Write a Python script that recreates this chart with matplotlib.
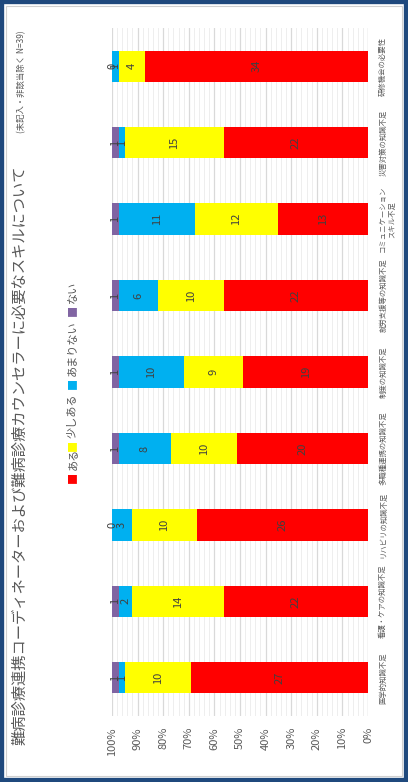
import numpy as np
import matplotlib
matplotlib.use('Agg')
import matplotlib.pyplot as plt
from matplotlib.patches import Rectangle
from matplotlib.ticker import MultipleLocator

plt.rcParams['font.family'] = ['Noto Sans CJK JP', 'DejaVu Sans']

# categories, original left -> right (drawn bottom -> top after rotation)
categories = ['医学的知識不足', '看護・ケアの知識不足', 'リハビリの知識不足',
              '多職種連携の知識不足', '制度の知識不足', '就労支援等の知識不足',
              'コミュニケーション\nスキル不足', '災害対策の知識不足', '研修機会の必要性']
aru = [27, 22, 26, 20, 19, 22, 13, 22, 34]          # ある
sukoshi = [10, 14, 10, 10, 9, 10, 12, 15, 4]        # 少しある
amari = [1, 2, 3, 8, 10, 6, 11, 1, 1]               # あまりない
nai = [1, 1, 0, 1, 1, 1, 1, 1, 0]                   # ない
series_names = ['ある', '少しある', 'あまりない', 'ない']
colors = ['#ff0000', '#ffff00', '#00b0f0', '#8064a2']
pct_ticks = ['100%', '90%', '80%', '70%', '60%', '50%', '40%', '30%', '20%', '10%', '0%']

txt = '#595959'
W, H = 408, 782
fig = plt.figure(figsize=(W/100, H/100), dpi=100)
fig.patch.set_facecolor('white')

ax = fig.add_axes([112/W, (H-716)/H, (368-112)/W, (716-28)/H])

vals = np.array([aru, sukoshi, amari, nai], dtype=float)
tot = vals.sum(axis=0)
pct = vals / tot * 100
y = np.arange(len(categories))
left = np.zeros(len(categories))
for k in range(4):
    ax.barh(y, pct[k], left=left, height=0.41, color=colors[k], zorder=3)
    for i in range(len(categories)):
        ax.text(left[i] + pct[k][i]/2, y[i], str(int(vals[k][i])), rotation=90,
                ha='center', va='center', fontsize=8, color='#404040', zorder=4)
    left += pct[k]

ax.set_xlim(100, 0)
ax.set_ylim(-0.5, len(categories) - 0.5)
ax.set_xticks(np.arange(100, -1, -10))
ax.set_xticklabels(pct_ticks, rotation=90, fontsize=8, color=txt)
ax.xaxis.set_minor_locator(MultipleLocator(2))
ax.grid(axis='x', which='major', color='#d9d9d9', lw=0.9, zorder=0)
ax.grid(axis='x', which='minor', color='#eeeeee', lw=0.7, zorder=0)
ax.tick_params(axis='x', which='both', length=0, pad=8)
ax.yaxis.tick_right()
ax.set_yticks(y)
ax.set_yticklabels(categories, rotation=90, fontsize=5.3, color=txt,
                   va='center', ha='left', multialignment='center')
ax.tick_params(axis='y', length=0, pad=8)
for s in ax.spines.values():
    s.set_visible(False)
ax.axvline(0, color='#d9d9d9', lw=0.9, zorder=1)

# title (rotated)
fig.text(20/W, (H-745)/H, '難病診療連携コーディネーターおよび難病診療カウンセラーに必要なスキルについて',
         rotation=90, ha='center', va='bottom', fontsize=11, color=txt)
fig.text(22/W, (H-30)/H, '(未記入・非該当除く N=39)', rotation=90,
         ha='center', va='top', fontsize=6, color=txt)

# legend (rotated)
sq_y = [477, 445, 383, 310]
for name, c, sy in zip(series_names, colors, sq_y):
    fig.text(73/W, (H-sy)/H, '■', rotation=90, ha='center', va='center',
             fontsize=8, color=c)
    fig.text(73/W, (H-sy+7)/H, name, rotation=90, ha='center', va='bottom',
             fontsize=8, color=txt)

# frame
fig.patches.append(Rectangle((0, 0), 1, 1, transform=fig.transFigure, fill=False,
                             ec='#1f497d', lw=6, zorder=10))
fig.patches.append(Rectangle((6/W, 6/H), 1-12/W, 1-12/H, transform=fig.transFigure,
                             fill=False, ec='#d0d0d0', lw=0.8, zorder=10))

fig.savefig('out.png', dpi=100)
